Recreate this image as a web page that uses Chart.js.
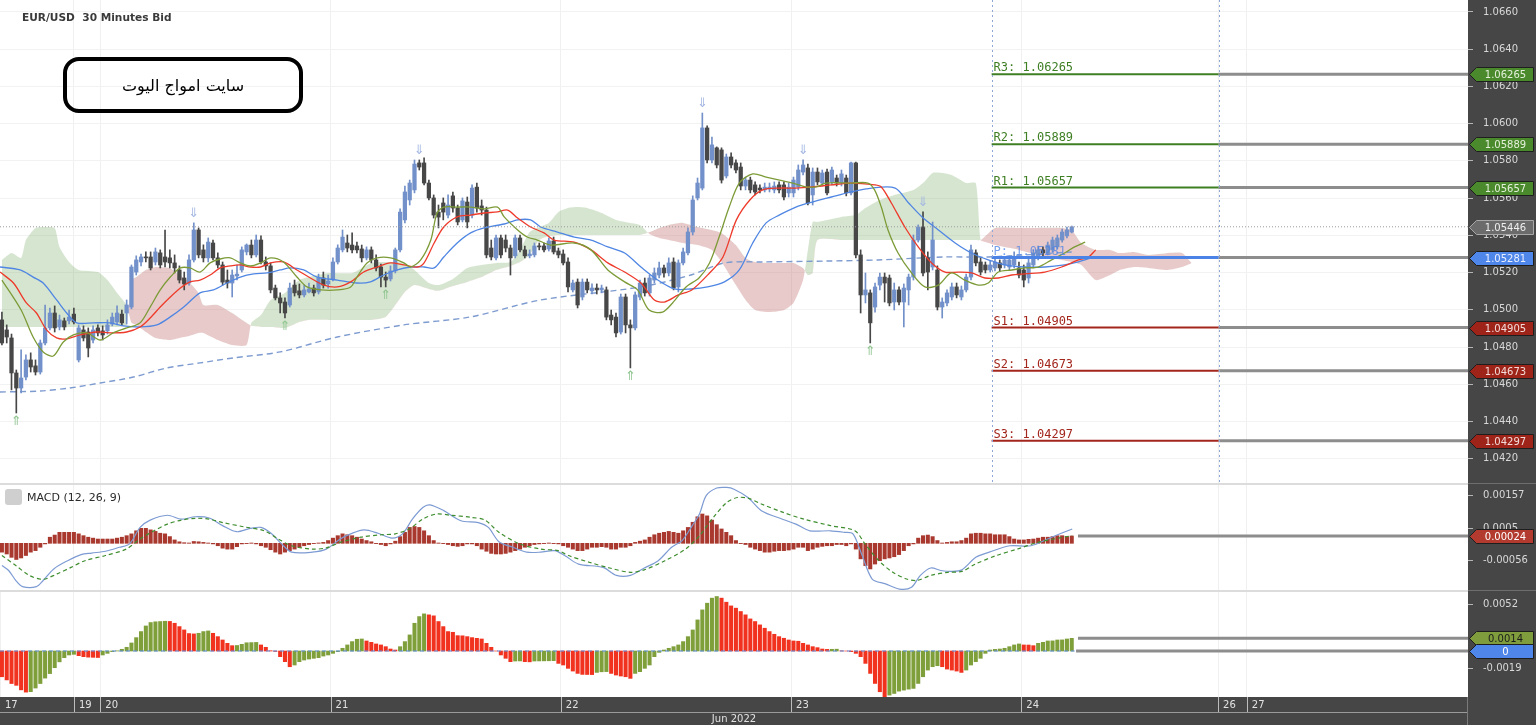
<!DOCTYPE html>
<html>
<head>
<meta charset="utf-8">
<script src="https://cdn.jsdelivr.net/npm/chart.js@4.4.1/dist/chart.umd.min.js"></script>
<style>
  body { margin: 0; background: #fff; }
  #wrap { position: relative; width: 1536px; height: 725px; overflow: hidden; font-family: "DejaVu Sans", sans-serif; }
  #wrap canvas { position: absolute; left: 0; display: block; }
  #title { position: absolute; left: 22px; top: 11px; font: bold 10.6px "DejaVu Sans", sans-serif; color: #3a3a3a; white-space: pre; }
  #badge { position: absolute; left: 63px; top: 57px; width: 232px; height: 48px; border: 4px solid #000; border-radius: 16px;
           display: flex; align-items: center; justify-content: center; font: 16px "DejaVu Sans", sans-serif; color: #000; background: transparent; }
  #macdName { position: absolute; left: 5px; top: 489px; height: 16px; font: 11px "DejaVu Sans", sans-serif; color: #2a2a2a; display: flex; align-items: center; }
  #macdName .eye { width: 17px; height: 16px; border-radius: 3px; background: #cfcfcf; margin-right: 5px; }
</style>
</head>
<body>
<div id="wrap">
  <canvas id="pricePane" width="1536" height="483" style="top:0"></canvas>
  <canvas id="macdPane" width="1536" height="107" style="top:483px"></canvas>
  <canvas id="oscPane" width="1536" height="135" style="top:590px"></canvas>
  <div id="title">EUR/USD  30 Minutes Bid</div>
  <div id="badge" dir="rtl">سايت امواج اليوت</div>
  <div id="macdName"><span class="eye"></span>MACD (12, 26, 9)</div>
</div>
<script>
// EUR/USD 30 minute bars, Jun 17 - Jun 24 2022 (bar 0 = first visible bar)
const candleOpen = [
  1.04946,1.04892,1.04849,1.04661,1.04580,1.04639,1.04731,1.04699,1.04666,1.04822,
  1.04903,1.04983,1.04908,1.04941,1.04941,1.04977,1.04731,1.04892,1.04881,1.04838,
  1.04903,1.04887,1.04887,1.04924,1.04935,1.04977,1.04983,1.05015,1.05203,1.05257,
  1.05284,1.05284,1.05257,1.05306,1.05284,1.05279,1.05252,1.05214,1.05171,1.05144,
  1.05268,1.05429,1.05322,1.05279,1.05359,1.05279,1.05241,1.05160,1.05144,1.05182,
  1.05214,1.05311,1.05348,1.05295,1.05375,1.05257,1.05236,1.05117,1.05064,1.05042,
  1.05026,1.05133,1.05102,1.05080,1.05096,1.05117,1.05096,1.05171,1.05139,1.05166,
  1.05257,1.05322,1.05359,1.05348,1.05343,1.05327,1.05279,1.05322,1.05268,1.05230,
  1.05176,1.05166,1.05209,1.05322,1.05483,1.05590,1.05644,1.05789,1.05789,1.05681,
  1.05601,1.05525,1.05574,1.05509,1.05612,1.05547,1.05483,1.05579,1.05509,1.05659,
  1.05558,1.05536,1.05332,1.05279,1.05386,1.05375,1.05332,1.05290,1.05386,1.05322,
  1.05290,1.05295,1.05343,1.05343,1.05327,1.05370,1.05316,1.05300,1.05257,1.05107,
  1.05149,1.05069,1.05149,1.05102,1.05117,1.05107,1.05107,1.04972,1.04961,1.04881,
  1.05069,1.04919,1.04903,1.05069,1.05144,1.05091,1.05160,1.05187,1.05225,1.05198,
  1.05257,1.05123,1.05252,1.05306,1.05418,1.05601,1.05654,1.05977,1.05805,1.05870,
  1.05859,1.05719,1.05821,1.05789,1.05767,1.05665,1.05697,1.05671,1.05654,1.05644,
  1.05649,1.05644,1.05671,1.05671,1.05628,1.05628,1.05659,1.05740,1.05762,1.05617,
  1.05740,1.05681,1.05740,1.05687,1.05708,1.05681,1.05708,1.05628,1.05789,1.05295,
  1.05080,1.05091,1.05015,1.05133,1.05176,1.05171,1.05042,1.05107,1.05042,1.05107,
  1.05176,1.05375,1.05445,1.05279,1.05230,1.05214,1.05015,1.05037,1.05069,1.05123,
  1.05069,1.05107,1.05176,1.05306,1.05257,1.05241,1.05214,1.05225,1.05252,1.05241,
  1.05230,1.05241,1.05225,1.05214,1.05171,1.05241,1.05279,1.05322,1.05306,1.05322,
  1.05338,1.05375,1.05397,1.05418
];
const candleHigh = [
  1.04988,1.04919,1.04870,1.04677,1.04785,1.04758,1.04769,1.04731,1.04838,1.05026,
  1.05010,1.05021,1.04972,1.04956,1.04999,1.05010,1.04919,1.04914,1.04903,1.04914,
  1.04919,1.04914,1.04946,1.04983,1.05021,1.04999,1.05053,1.05241,1.05290,1.05300,
  1.05311,1.05311,1.05332,1.05322,1.05429,1.05322,1.05295,1.05236,1.05203,1.05295,
  1.05467,1.05440,1.05349,1.05386,1.05375,1.05306,1.05257,1.05214,1.05214,1.05241,
  1.05338,1.05354,1.05375,1.05402,1.05397,1.05284,1.05252,1.05133,1.05091,1.05064,
  1.05144,1.05160,1.05139,1.05133,1.05144,1.05133,1.05192,1.05203,1.05187,1.05279,
  1.05349,1.05429,1.05402,1.05413,1.05364,1.05348,1.05338,1.05338,1.05295,1.05246,
  1.05203,1.05236,1.05332,1.05542,1.05665,1.05697,1.05805,1.05805,1.05816,1.05697,
  1.05617,1.05563,1.05601,1.05617,1.05633,1.05563,1.05601,1.05606,1.05671,1.05681,
  1.05590,1.05552,1.05375,1.05402,1.05402,1.05402,1.05348,1.05402,1.05402,1.05343,
  1.05322,1.05359,1.05359,1.05359,1.05386,1.05391,1.05332,1.05322,1.05279,1.05160,
  1.05166,1.05166,1.05166,1.05139,1.05139,1.05133,1.05123,1.04999,1.04983,1.05085,
  1.05085,1.04946,1.05096,1.05160,1.05171,1.05187,1.05225,1.05257,1.05241,1.05279,
  1.05279,1.05268,1.05332,1.05440,1.05612,1.05708,1.06057,1.05988,1.05928,1.05875,
  1.05870,1.05837,1.05843,1.05805,1.05789,1.05713,1.05713,1.05687,1.05671,1.05681,
  1.05681,1.05687,1.05687,1.05687,1.05681,1.05713,1.05778,1.05805,1.05783,1.05762,
  1.05762,1.05751,1.05756,1.05767,1.05724,1.05751,1.05724,1.05794,1.05794,1.05322,
  1.05198,1.05107,1.05144,1.05198,1.05198,1.05187,1.05144,1.05123,1.05139,1.05192,
  1.05402,1.05456,1.05526,1.05311,1.05472,1.05236,1.05064,1.05107,1.05144,1.05144,
  1.05128,1.05192,1.05348,1.05322,1.05279,1.05257,1.05262,1.05279,1.05268,1.05284,
  1.05290,1.05311,1.05257,1.05241,1.05279,1.05322,1.05343,1.05338,1.05364,1.05391,
  1.05402,1.05434,1.05445,1.05450
];
const candleLow = [
  1.04811,1.04822,1.04570,1.04446,1.04554,1.04623,1.04666,1.04650,1.04655,1.04811,
  1.04892,1.04881,1.04892,1.04892,1.04924,1.04924,1.04720,1.04833,1.04747,1.04822,
  1.04860,1.04838,1.04870,1.04914,1.04919,1.04919,1.04924,1.05005,1.05187,1.05236,
  1.05257,1.05214,1.05241,1.05225,1.05230,1.05225,1.05198,1.05144,1.05107,1.05133,
  1.05257,1.05279,1.05257,1.05257,1.05268,1.05225,1.05133,1.05117,1.05069,1.05160,
  1.05203,1.05295,1.05279,1.05284,1.05246,1.05214,1.05091,1.05053,1.04983,1.04956,
  1.05015,1.05074,1.05064,1.05069,1.05091,1.05074,1.05085,1.05117,1.05117,1.05155,
  1.05246,1.05311,1.05311,1.05306,1.05306,1.05257,1.05268,1.05252,1.05209,1.05123,
  1.05123,1.05155,1.05198,1.05311,1.05467,1.05563,1.05628,1.05751,1.05671,1.05590,
  1.05493,1.05440,1.05483,1.05493,1.05525,1.05456,1.05472,1.05440,1.05493,1.05525,
  1.05509,1.05279,1.05268,1.05268,1.05279,1.05311,1.05187,1.05279,1.05311,1.05279,
  1.05279,1.05284,1.05322,1.05311,1.05316,1.05300,1.05279,1.05241,1.05096,1.05096,
  1.05010,1.05053,1.05091,1.05085,1.05085,1.05091,1.04946,1.04919,1.04854,1.04870,
  1.04876,1.04688,1.04892,1.05053,1.05074,1.05074,1.05144,1.05171,1.05176,1.05182,
  1.05107,1.05096,1.05241,1.05295,1.05402,1.05590,1.05644,1.05789,1.05789,1.05762,
  1.05681,1.05708,1.05762,1.05735,1.05644,1.05644,1.05628,1.05617,1.05628,1.05633,
  1.05633,1.05628,1.05628,1.05590,1.05606,1.05606,1.05644,1.05724,1.05563,1.05563,
  1.05671,1.05665,1.05617,1.05671,1.05665,1.05665,1.05612,1.05617,1.05279,1.04983,
  1.05037,1.04822,1.04988,1.05107,1.05042,1.05021,1.04999,1.05026,1.04908,1.05026,
  1.05160,1.05364,1.05182,1.05107,1.05214,1.04999,1.04956,1.05021,1.05053,1.05064,
  1.05053,1.05096,1.05160,1.05236,1.05187,1.05198,1.05203,1.05209,1.05209,1.05225,
  1.05214,1.05225,1.05171,1.05123,1.05144,1.05225,1.05268,1.05290,1.05295,1.05311,
  1.05327,1.05364,1.05386,1.05413
];
const candleClose = [
  1.04822,1.04854,1.04661,1.04580,1.04634,1.04731,1.04693,1.04666,1.04822,1.04903,
  1.04983,1.04903,1.04946,1.04908,1.04961,1.04935,1.04903,1.04849,1.04795,1.04892,
  1.04876,1.04865,1.04919,1.04961,1.04983,1.04930,1.05026,1.05230,1.05268,1.05284,
  1.05279,1.05225,1.05311,1.05241,1.05257,1.05252,1.05225,1.05160,1.05139,1.05268,
  1.05429,1.05295,1.05279,1.05364,1.05279,1.05241,1.05149,1.05144,1.05187,1.05192,
  1.05322,1.05348,1.05295,1.05375,1.05257,1.05236,1.05107,1.05064,1.05037,1.04983,
  1.05117,1.05091,1.05080,1.05107,1.05112,1.05091,1.05171,1.05133,1.05155,1.05257,
  1.05332,1.05391,1.05332,1.05322,1.05322,1.05279,1.05322,1.05268,1.05225,1.05176,
  1.05160,1.05209,1.05322,1.05525,1.05633,1.05681,1.05783,1.05767,1.05681,1.05601,
  1.05509,1.05498,1.05525,1.05563,1.05547,1.05472,1.05585,1.05472,1.05654,1.05547,
  1.05536,1.05295,1.05284,1.05386,1.05295,1.05332,1.05279,1.05386,1.05322,1.05290,
  1.05300,1.05343,1.05338,1.05322,1.05370,1.05311,1.05295,1.05252,1.05123,1.05144,
  1.05026,1.05149,1.05107,1.05117,1.05107,1.05117,1.04961,1.04946,1.04876,1.05069,
  1.04919,1.04903,1.05080,1.05144,1.05091,1.05171,1.05198,1.05225,1.05198,1.05252,
  1.05117,1.05252,1.05311,1.05418,1.05590,1.05681,1.05977,1.05805,1.05886,1.05778,
  1.05697,1.05821,1.05778,1.05751,1.05665,1.05697,1.05644,1.05633,1.05644,1.05659,
  1.05659,1.05665,1.05644,1.05606,1.05659,1.05697,1.05751,1.05778,1.05574,1.05740,
  1.05687,1.05735,1.05628,1.05751,1.05681,1.05730,1.05628,1.05789,1.05295,1.05080,
  1.05107,1.04930,1.05123,1.05176,1.05144,1.05037,1.05107,1.05042,1.05117,1.05176,
  1.05375,1.05445,1.05198,1.05203,1.05375,1.05015,1.05042,1.05091,1.05123,1.05080,
  1.05107,1.05176,1.05322,1.05252,1.05203,1.05214,1.05241,1.05257,1.05225,1.05268,
  1.05268,1.05284,1.05187,1.05160,1.05252,1.05306,1.05322,1.05306,1.05348,1.05375,
  1.05386,1.05418,1.05429,1.05446
];

// moving averages: [bar, price]
const maGreen = [[0,1.05160],[4,1.04999],[6.5,1.04854],[8.6,1.04774],[10.7,1.04752],[12.8,1.04827],[14.9,1.04865],[17.7,1.04876],[20.5,1.04838],[23.2,1.04876],[26,1.04903],[28.8,1.04930],[30.9,1.05015],[33,1.05107],[35.1,1.05176],[37.2,1.05225],[39.2,1.05225],[41.3,1.05203],[43.4,1.05252],[45.5,1.05273],[47.6,1.05279],[49.7,1.05252],[51.8,1.05236],[53.9,1.05252],[56,1.05279],[58.7,1.05257],[61.5,1.05176],[63.6,1.05123],[66.5,1.05107],[69.9,1.05107],[72.7,1.05123],[74,1.05176],[76.1,1.05252],[78.2,1.05279],[81,1.05279],[83.8,1.05252],[85.2,1.05230],[87.3,1.05268],[89.4,1.05375],[90.7,1.05520],[92.1,1.05552],[94.9,1.05552],[97.7,1.05552],[100.5,1.05542],[103.3,1.05552],[104.7,1.05499],[107.5,1.05429],[109.5,1.05391],[111.6,1.05375],[114.4,1.05348],[119.3,1.05359],[122.8,1.05322],[126.3,1.05214],[129.8,1.05150],[132.5,1.05107],[134.9,1.04999],[137.7,1.04988],[139.8,1.05037],[142.6,1.05123],[145.3,1.05171],[147.5,1.05252],[149.5,1.05391],[151.6,1.05552],[153.7,1.05681],[156.5,1.05730],[159.3,1.05713],[162.1,1.05697],[164.8,1.05681],[167.6,1.05660],[169.7,1.05660],[171.8,1.05681],[177,1.05681],[180.5,1.05681],[181.9,1.05644],[183.3,1.05552],[184.7,1.05429],[186.8,1.05305],[189.6,1.05198],[192.4,1.05123],[195.2,1.05133],[197.9,1.05198],[200.7,1.05160],[203.5,1.05133],[205.6,1.05144],[207.7,1.05203],[210.5,1.05214],[213.2,1.05225],[216,1.05230],[218.8,1.05268],[221.5,1.05305],[223.6,1.05338],[225.8,1.05364]];
const maRed = [[-0.4,1.05203],[2.4,1.05144],[5.1,1.05037],[7.2,1.04983],[9.3,1.04892],[11.4,1.04849],[13.5,1.04844],[16.3,1.04865],[19.8,1.04881],[22.5,1.04876],[26,1.04881],[28.8,1.04908],[30.9,1.04956],[33,1.05015],[35.1,1.05069],[37.2,1.05117],[39.2,1.05150],[41.3,1.05160],[43.4,1.05187],[45.5,1.05225],[47.6,1.05236],[49.7,1.05241],[51.8,1.05230],[53.9,1.05230],[56,1.05252],[58.7,1.05257],[61.5,1.05214],[64.3,1.05171],[67.1,1.05133],[69.9,1.05123],[72.7,1.05150],[75.4,1.05203],[78.2,1.05230],[81,1.05252],[83.8,1.05241],[86.6,1.05230],[88,1.05252],[90.1,1.05359],[92.1,1.05445],[94.9,1.05499],[97.7,1.05509],[100.5,1.05520],[103.3,1.05526],[105.4,1.05536],[107.5,1.05493],[110.2,1.05445],[113,1.05413],[115.1,1.05375],[119.3,1.05364],[122.8,1.05322],[126.3,1.05252],[129.8,1.05203],[133.2,1.05144],[136,1.05053],[138.1,1.05042],[141,1.05080],[143.8,1.05107],[147.5,1.05198],[150.3,1.05284],[153.1,1.05483],[155.9,1.05590],[158.6,1.05644],[162.1,1.05654],[165.5,1.05654],[168.9,1.05660],[172.9,1.05671],[177,1.05681],[181.9,1.05671],[183.3,1.05660],[185.4,1.05574],[188.2,1.05445],[191,1.05338],[193.8,1.05252],[196.6,1.05203],[199.4,1.05203],[202.1,1.05198],[204.9,1.05171],[207.7,1.05171],[210.5,1.05187],[213.2,1.05193],[217.4,1.05203],[220.9,1.05230],[224.4,1.05268],[226.5,1.05284],[228,1.05322]];
const maBlue = [[-0.4,1.05230],[3.8,1.05214],[6.5,1.05176],[8.6,1.05144],[11.4,1.05053],[13.5,1.04983],[15.6,1.04930],[19.1,1.04930],[22.5,1.04930],[25.3,1.04914],[28.8,1.04908],[32.3,1.04919],[35.1,1.04962],[37.9,1.05015],[41.3,1.05091],[44.1,1.05107],[46.9,1.05144],[49.7,1.05176],[52.5,1.05193],[55.3,1.05198],[58,1.05214],[60.1,1.05225],[62.9,1.05214],[65.7,1.05176],[69.9,1.05160],[74,1.05144],[76.8,1.05150],[79.6,1.05187],[82.4,1.05214],[85.2,1.05230],[88,1.05230],[90.1,1.05225],[92.1,1.05284],[94.9,1.05359],[97.7,1.05413],[100.5,1.05440],[104.7,1.05461],[107.5,1.05483],[110.2,1.05483],[112.3,1.05445],[115.8,1.05418],[119.3,1.05391],[122.8,1.05375],[126.3,1.05338],[129.8,1.05305],[133.2,1.05230],[136.7,1.05160],[140.2,1.05112],[143.6,1.05112],[147.1,1.05123],[150.6,1.05150],[153.7,1.05214],[156.5,1.05359],[159.3,1.05467],[162.1,1.05510],[165.5,1.05552],[168.9,1.05579],[172.9,1.05606],[177,1.05633],[181.3,1.05654],[186.2,1.05654],[189,1.05574],[191.8,1.05499],[195.2,1.05429],[198.7,1.05359],[202.1,1.05305],[205.6,1.05268],[209.1,1.05241],[213.2,1.05230],[217.4,1.05230],[221.5,1.05241],[224.4,1.05257],[227.2,1.05279],[231,1.05284]];
const ma200 = [[-0.4,1.04559],[8,1.04564],[14,1.04580],[20.5,1.04607],[27.4,1.04639],[34.4,1.04688],[41.3,1.04715],[48.3,1.04742],[58,1.04774],[69.9,1.04854],[83.8,1.04919],[97.7,1.04962],[112.3,1.05053],[133.2,1.05123],[143.6,1.05187],[150.6,1.05252],[158.6,1.05257],[171.8,1.05262],[182.6,1.05268],[196.6,1.05284],[205.6,1.05284],[223,1.05311]];

// Ichimoku cloud (shifted forward), spans sampled at these bars
const cloudBars = [0,2,4,5,7,9,11,12,14,16,20,22,24,26,27,28,30,32,35,37,39,41,42,45,48,51,52,54,56,59,62,64,68,73,77,80,82,84,86,89,91,94,97,100,103,106,108,110,112,114,116,118,120,122,125,128,131,133,135,137,139,142,145,148,150,153,155,157,160,163,165,167,168,169,170,175,178,180,183,186,190,192,194,196,198,201,203,204,205,207,212,216,221,223,225,228,231,233,236,239,243,246,248];
const cloudSpanA = [1.05268,1.05305,1.05279,1.05375,1.05440,1.05445,1.05440,1.05338,1.05257,1.05214,1.05203,1.05160,1.05091,1.05026,1.04930,1.04919,1.04881,1.04849,1.04838,1.04849,1.04860,1.04876,1.04876,1.04838,1.04811,1.04811,1.04930,1.04972,1.05053,1.05091,1.05160,1.05176,1.05198,1.05198,1.05252,1.05257,1.05257,1.05252,1.05214,1.05144,1.05133,1.05166,1.05225,1.05241,1.05252,1.05257,1.05322,1.05418,1.05445,1.05467,1.05526,1.05547,1.05552,1.05547,1.05520,1.05483,1.05467,1.05456,1.05407,1.05386,1.05375,1.05359,1.05348,1.05322,1.05257,1.05133,1.05053,1.04999,1.04988,1.04999,1.05037,1.05160,1.05322,1.05472,1.05472,1.05499,1.05510,1.05547,1.05590,1.05617,1.05644,1.05681,1.05735,1.05735,1.05724,1.05681,1.05681,1.05375,1.05364,1.05348,1.05322,1.05295,1.05268,1.05257,1.05241,1.05160,1.05187,1.05214,1.05230,1.05225,1.05214,1.05230,1.05252];
const cloudSpanB = [1.04908,1.04908,1.04908,1.04908,1.04908,1.04908,1.04908,1.04908,1.04908,1.04908,1.04908,1.04908,1.04908,1.04919,1.05160,1.05176,1.05214,1.05230,1.05225,1.05187,1.05150,1.05091,1.05026,1.05026,1.04983,1.04930,1.04914,1.04908,1.04908,1.04903,1.04935,1.04946,1.04946,1.04946,1.04946,1.04962,1.05026,1.05096,1.05133,1.05112,1.05102,1.05128,1.05150,1.05176,1.05214,1.05236,1.05257,1.05295,1.05375,1.05397,1.05402,1.05402,1.05402,1.05402,1.05402,1.05402,1.05402,1.05402,1.05418,1.05440,1.05456,1.05467,1.05445,1.05429,1.05413,1.05348,1.05279,1.05257,1.05252,1.05252,1.05252,1.05225,1.05187,1.05198,1.05375,1.05375,1.05375,1.05375,1.05375,1.05375,1.05375,1.05375,1.05375,1.05375,1.05375,1.05375,1.05375,1.05375,1.05397,1.05440,1.05440,1.05440,1.05440,1.05429,1.05359,1.05322,1.05322,1.05305,1.05311,1.05295,1.05305,1.05305,1.05252];

// fractal markers (bar index)
const upFractalBars = [3, 59, 80, 131, 181];
const downFractalBars = [40, 87, 146, 167, 192];

// daily pivot levels
const pivotNames = ['R3', 'R2', 'R1', 'P', 'S1', 'S2', 'S3'];
const pivotValues = [1.06265, 1.05889, 1.05657, 1.05281, 1.04905, 1.04673, 1.04297];
const pivotFrom = 206.3, pivotTo = 253.6;
const lastPrice = 1.05446;
const priceTicks = [1.042, 1.044, 1.046, 1.048, 1.050, 1.052, 1.054, 1.056, 1.058, 1.060, 1.062, 1.064, 1.066];

// MACD (12, 26, 9)
const macdHist = [
  -0.00029,-0.00035,-0.00046,-0.00053,-0.00048,-0.00040,-0.00029,-0.00024,-0.00013,-0.00002,
  0.00020,0.00027,0.00036,0.00036,0.00036,0.00036,0.00031,0.00025,0.00020,0.00017,
  0.00014,0.00014,0.00014,0.00014,0.00017,0.00020,0.00025,0.00031,0.00041,0.00049,
  0.00049,0.00044,0.00039,0.00033,0.00031,0.00022,0.00011,0.00005,0.00002,0.00001,
  0.00006,0.00005,0.00003,0.00001,-0.00002,-0.00008,-0.00016,-0.00019,-0.00019,-0.00011,
  -0.00002,-0.00001,0.00001,-0.00002,-0.00008,-0.00013,-0.00021,-0.00029,-0.00035,-0.00029,
  -0.00024,-0.00019,-0.00013,-0.00008,-0.00004,-0.00001,0.00001,0.00003,0.00009,0.00017,
  0.00025,0.00031,0.00028,0.00025,0.00020,0.00014,0.00009,0.00005,-0.00001,-0.00004,
  -0.00008,-0.00002,0.00007,0.00022,0.00036,0.00052,0.00055,0.00052,0.00041,0.00025,
  0.00009,0.00001,-0.00001,-0.00004,-0.00008,-0.00010,-0.00008,-0.00002,-0.00002,-0.00008,
  -0.00019,-0.00026,-0.00033,-0.00035,-0.00035,-0.00033,-0.00029,-0.00024,-0.00019,-0.00013,
  -0.00008,-0.00004,-0.00002,-0.00001,0.00001,-0.00001,-0.00002,-0.00008,-0.00013,-0.00019,
  -0.00024,-0.00024,-0.00019,-0.00013,-0.00013,-0.00011,-0.00013,-0.00019,-0.00019,-0.00013,
  -0.00013,-0.00008,0.00003,0.00007,0.00011,0.00020,0.00028,0.00033,0.00036,0.00039,
  0.00036,0.00033,0.00041,0.00052,0.00069,0.00087,0.00096,0.00090,0.00076,0.00061,
  0.00047,0.00036,0.00025,0.00009,-0.00001,-0.00004,-0.00013,-0.00019,-0.00024,-0.00029,
  -0.00029,-0.00026,-0.00024,-0.00024,-0.00022,-0.00019,-0.00013,-0.00013,-0.00024,-0.00019,
  -0.00013,-0.00010,-0.00008,-0.00008,-0.00004,-0.00004,-0.00008,-0.00002,-0.00019,-0.00051,
  -0.00073,-0.00084,-0.00068,-0.00057,-0.00051,-0.00048,-0.00044,-0.00037,-0.00024,-0.00008,
  -0.00002,0.00017,0.00025,0.00027,0.00022,0.00009,0.00001,0.00003,0.00005,0.00005,
  0.00009,0.00017,0.00031,0.00033,0.00033,0.00031,0.00031,0.00028,0.00028,0.00028,
  0.00022,0.00014,0.00011,0.00011,0.00013,0.00014,0.00017,0.00020,0.00020,0.00022,
  0.00025,0.00025,0.00022,0.00024
];
const macdLine = [[0,-0.00073],[1.4,-0.00089],[2.9,-0.00122],[4.3,-0.00142],[7.2,-0.00142],[8.6,-0.00122],[10.8,-0.00084],[13.7,-0.00057],[16.5,-0.00037],[18.7,-0.00032],[21.6,-0.00026],[24.5,-0.00013],[26.6,-0.00002],[28.8,0.00052],[30.9,0.00076],[34.5,0.00092],[37.4,0.00079],[40.3,0.00087],[43.2,0.00083],[46,0.00058],[48.9,0.00038],[51.8,0.00049],[54,0.00052],[56.1,0.00033],[58.3,-0.00002],[60.4,-0.00029],[64.7,-0.00029],[67.6,-0.00019],[70.5,0.00014],[72.7,0.00031],[75.5,0.00044],[78.4,0.00033],[81.3,0.00017],[83.5,0.00031],[85.6,0.00080],[87.8,0.00118],[89.2,0.00126],[92.1,0.00107],[95.7,0.00074],[99.3,0.00068],[101.4,0.00052],[103.6,0.00005],[106.5,-0.00013],[109.4,-0.00029],[112.3,-0.00029],[115.2,-0.00024],[117.3,-0.00040],[120.2,-0.00068],[125.3,-0.00079],[128.1,-0.00105],[131,-0.00105],[133.9,-0.00081],[136.8,-0.00057],[139.6,-0.00013],[141.8,0.00009],[143.9,0.00058],[145.4,0.00096],[146.8,0.00156],[149,0.00181],[151.1,0.00183],[152.6,0.00177],[155.5,0.00150],[158.3,0.00107],[162.7,0.00079],[165.5,0.00063],[168.4,0.00041],[172.7,0.00041],[175.6,0.00036],[177.4,0.00031],[179.2,-0.00035],[181.4,-0.00117],[184.2,-0.00133],[187.1,-0.00150],[189.6,-0.00144],[191.4,-0.00106],[193.6,-0.00081],[195.7,-0.00089],[197.9,-0.00092],[200.1,-0.00087],[203,-0.00046],[205.8,-0.00029],[210.1,-0.00008],[214.5,-0.00008],[218.8,0.00020],[223.1,0.00047]];
const macdSignal = [[0,-0.00040],[2.9,-0.00073],[5.8,-0.00106],[8.6,-0.00118],[11.5,-0.00100],[14.4,-0.00079],[17.3,-0.00057],[21.6,-0.00040],[25.9,-0.00019],[28.8,0.00014],[31.7,0.00041],[34.5,0.00063],[37.4,0.00076],[40.3,0.00082],[43.2,0.00079],[46,0.00068],[50.4,0.00054],[54.7,0.00041],[57.6,0.00014],[60.4,-0.00008],[64.7,-0.00019],[67.6,-0.00015],[70.5,0.00003],[74.8,0.00020],[79.1,0.00028],[82,0.00031],[84.9,0.00047],[87.8,0.00080],[90.6,0.00096],[93.5,0.00092],[97.8,0.00085],[100.7,0.00076],[103.6,0.00036],[107.9,-0.00002],[112.3,-0.00019],[115.9,-0.00024],[118.1,-0.00040],[122.4,-0.00062],[126.7,-0.00081],[131,-0.00095],[133.9,-0.00087],[138.2,-0.00057],[142.5,-0.00019],[145.4,0.00025],[148.3,0.00085],[151.1,0.00134],[153.3,0.00150],[155.5,0.00148],[158.3,0.00129],[162.7,0.00102],[167,0.00080],[172.7,0.00058],[177.8,0.00041],[179.9,-0.00002],[182.8,-0.00057],[185.7,-0.00095],[188.6,-0.00117],[190.7,-0.00122],[193.6,-0.00105],[197.2,-0.00095],[200.1,-0.00092],[202.9,-0.00068],[207.3,-0.00040],[211.6,-0.00019],[215.9,0.00003],[220.2,0.00017],[223.1,0.00025]];
const macdTicks = [0.00157, 0.0005, -0.00056];
const macdLast = 0.00024;

// lower oscillator histogram
const oscHist = [
  -0.00285,-0.0032,-0.0036,-0.0038,-0.0043,-0.00455,-0.0045,-0.0041,-0.0036,-0.0030,
  -0.0025,-0.00185,-0.0012,-0.00074,-0.00044,-0.00037,-0.00052,-0.00063,-0.00068,-0.0007,
  -0.00072,-0.00044,-0.00026,-0.00007,0.00002,0.00019,0.00041,0.00089,0.00148,0.00215,
  0.00277,0.00315,0.00323,0.00326,0.00329,0.00327,0.00307,0.0027,0.00233,0.00193,
  0.00189,0.00196,0.00215,0.00222,0.00196,0.00159,0.00122,0.00085,0.00059,0.00061,
  0.00074,0.00091,0.00093,0.00095,0.00067,0.00041,0.00003,-0.00005,-0.00063,-0.00118,
  -0.00174,-0.00155,-0.00118,-0.0010,-0.00089,-0.00081,-0.00074,-0.00056,-0.00044,-0.00026,
  -0.00007,0.0003,0.00067,0.00104,0.0013,0.00133,0.00111,0.00096,0.00078,0.00067,
  0.00048,0.00022,0.00011,0.00048,0.00104,0.00178,0.00307,0.00381,0.00411,0.0040,
  0.00389,0.00326,0.0027,0.00215,0.00207,0.0017,0.00168,0.00159,0.00148,0.0014,
  0.00133,0.00085,0.00041,0,-0.00044,-0.00081,-0.00118,-0.00111,-0.0011,-0.00118,
  -0.0012,-0.00111,-0.0011,-0.00109,-0.00108,-0.00107,-0.00137,-0.00155,-0.00192,-0.00222,
  -0.00248,-0.00259,-0.0026,-0.00261,-0.00237,-0.0023,-0.00228,-0.00248,-0.00266,-0.00277,
  -0.00285,-0.00303,-0.00248,-0.00229,-0.00192,-0.00155,-0.00063,-0.00015,0.00011,0.0003,
  0.00048,0.00067,0.00104,0.00159,0.00233,0.00344,0.00455,0.00529,0.00585,0.00603,
  0.00585,0.0054,0.00499,0.00474,0.00437,0.0040,0.00355,0.00326,0.00289,0.00252,
  0.00215,0.00185,0.00159,0.00141,0.00122,0.00111,0.00108,0.00085,0.00067,0.00048,
  0.00037,0.00022,0.00018,0.00019,0.0002,0.00002,0,-0.00007,-0.00026,-0.00063,
  -0.00137,-0.00248,-0.00359,-0.00451,-0.00507,-0.00488,-0.0047,-0.00444,-0.00433,-0.00422,
  -0.00414,-0.00359,-0.00285,-0.00211,-0.00174,-0.00163,-0.00174,-0.0020,-0.00211,-0.00222,
  -0.00237,-0.00211,-0.00155,-0.00118,-0.00081,-0.00026,0.00011,0.00018,0.00022,0.0003,
  0.00048,0.00067,0.00078,0.00067,0.00066,0.00059,0.00085,0.00096,0.00111,0.00112,
  0.00122,0.00123,0.00133,0.0014
];
const oscTicks = [0.0052, -0.0019];

// time axis: day boundaries (bar index) and their labels
const dayBounds = [-0.4, 15, 20.5, 68.5, 116.5, 164.5, 212.5, 253.5, 259.5];
const dayLabels = ['17', '19', '20', '21', '22', '23', '24', '26', '27'];

const X_MIN = -0.4, X_MAX = 305.6;
const FONT = '"DejaVu Sans", sans-serif';
const BULL = '#7290c9', BEAR = '#474747';
const AXIS_BG = '#464646';

function pts(pairs) { return pairs.map(p => ({ x: p[0], y: p[1] })); }
function line(data, color, width, extra) {
  return Object.assign({ type: 'line', data: data, borderColor: color, borderWidth: width, pointRadius: 0, fill: false, tension: 0.3 }, extra || {});
}
function noPad(s) { s.paddingTop = 0; s.paddingBottom = 0; s.paddingLeft = 0; s.paddingRight = 0; }
function xGrid() {
  return {
    type: 'linear', min: X_MIN, max: X_MAX, offset: false,
    afterBuildTicks: s => { s.ticks = dayBounds.slice(1).map(v => ({ value: v })); },
    ticks: { display: false },
    grid: { color: '#f0f0f0', drawTicks: false, offset: false },
    border: { display: false },
    afterFit: s => { s.height = 0; noPad(s); }
  };
}
function rightAxis(min, max, ticks, fmt, gridColor) {
  return {
    position: 'right', min: min, max: max,
    afterBuildTicks: s => { s.ticks = ticks.map(v => ({ value: v })); },
    ticks: { color: '#d8d8d8', padding: 10, font: { family: FONT, size: 10 }, callback: fmt },
    grid: { color: gridColor || 'rgba(0,0,0,0)', drawOnChartArea: gridColor !== null, tickColor: '#b5b5b5', tickLength: 5 },
    border: { display: false },
    afterFit: s => { s.width = 68; noPad(s); }
  };
}
function drawTag(chart, value, text, bg, fg, edge) {
  const ctx = chart.ctx;
  const y = Math.round(chart.scales.y.getPixelForValue(value)) + 0.5;
  const x0 = chart.chartArea.right + 1.5;
  ctx.save();
  ctx.beginPath();
  ctx.moveTo(x0, y);
  ctx.lineTo(x0 + 7, y - 7);
  ctx.lineTo(x0 + 64, y - 7);
  ctx.lineTo(x0 + 64, y + 7);
  ctx.lineTo(x0 + 7, y + 7);
  ctx.closePath();
  ctx.fillStyle = bg;
  ctx.fill();
  ctx.strokeStyle = edge || '#1e1e1e';
  ctx.lineWidth = 1;
  ctx.stroke();
  ctx.fillStyle = fg;
  ctx.font = '10px ' + FONT;
  ctx.textAlign = 'center';
  ctx.textBaseline = 'middle';
  ctx.fillText(text, x0 + 36, y + 1);
  ctx.restore();
}
const axisBg = {
  id: 'axisBg',
  beforeDraw(chart) {
    const { ctx, chartArea: a, width, height } = chart;
    ctx.save();
    ctx.fillStyle = AXIS_BG;
    ctx.fillRect(a.right, 0, width - a.right, height);
    if (height - a.bottom > 2) ctx.fillRect(0, a.bottom, width, height - a.bottom);
    ctx.restore();
  }
};
const topRule = {
  id: 'topRule',
  afterDraw(chart) {
    const { ctx, chartArea: a, width } = chart;
    ctx.save();
    ctx.fillStyle = '#dcdcdc';
    ctx.fillRect(0, 0, a.right, 2);
    ctx.fillStyle = '#6e6e6e';
    ctx.fillRect(a.right, 0, width - a.right, 1);
    ctx.restore();
  }
};
function pivotColor(name) {
  if (name[0] === 'R') return '#3f7f24';
  if (name[0] === 'S') return '#a3261d';
  return '#4a82e6';
}

// ---------- price pane ----------
const idx = candleClose.map((c, i) => i);
const candleColors = idx.map(i => candleClose[i] >= candleOpen[i] ? BULL : BEAR);
const priceSets = [
  line(cloudBars.map((b, i) => ({ x: b, y: cloudSpanA[i] })), 'rgba(0,0,0,0)', 0,
       { tension: 0.2, order: 20, fill: { target: '+1', above: 'rgba(118,168,98,0.30)', below: 'rgba(190,108,108,0.36)' } }),
  line(cloudBars.map((b, i) => ({ x: b, y: cloudSpanB[i] })), 'rgba(0,0,0,0)', 0, { tension: 0.2, order: 19 }),
  line(pts(ma200), '#7e9bd0', 1.4, { borderDash: [6, 4], order: 15 }),
  { type: 'bar', data: idx.map(i => ({ x: i, y: [candleLow[i], candleHigh[i]] })), backgroundColor: candleColors,
    barThickness: 1, grouped: false, borderWidth: 0, order: 12 },
  { type: 'bar', data: idx.map(i => ({ x: i, y: [candleOpen[i], candleClose[i]] })), backgroundColor: candleColors,
    barThickness: 3.6, grouped: false, borderWidth: 0, minBarLength: 1, order: 11 },
  line(pts(maBlue), '#4f86e3', 1.3, { order: 8 }),
  line(pts(maRed), '#ee3a2a', 1.3, { order: 7 }),
  line(pts(maGreen), '#7c9b37', 1.3, { order: 6 }),
  line([{ x: X_MIN, y: lastPrice }, { x: X_MAX, y: lastPrice }], '#9c9c9c', 1, { borderDash: [1, 2], tension: 0, order: 4 })
];
pivotValues.forEach((v, i) => {
  priceSets.push(line([{ x: pivotFrom, y: v }, { x: pivotTo, y: v }], pivotColor(pivotNames[i]), pivotNames[i] === 'P' ? 3 : 2, { tension: 0, order: 3 }));
  priceSets.push(line([{ x: pivotTo, y: v }, { x: X_MAX, y: v }], '#8d8d8d', 3, { tension: 0, order: 3 }));
});

const priceOverlay = {
  id: 'priceOverlay',
  afterDatasetsDraw(chart) {
    const { ctx, chartArea: a } = chart;
    const xs = chart.scales.x, ys = chart.scales.y;
    ctx.save();
    // session separators
    ctx.strokeStyle = '#8ea7d6';
    ctx.lineWidth = 1;
    ctx.setLineDash([2, 3]);
    [pivotFrom, pivotTo].forEach(b => {
      const x = Math.round(xs.getPixelForValue(b)) + 0.5;
      ctx.beginPath(); ctx.moveTo(x, a.top); ctx.lineTo(x, a.bottom); ctx.stroke();
    });
    ctx.setLineDash([]);
    // pivot labels
    ctx.font = '12px "DejaVu Sans Mono", monospace';
    ctx.textAlign = 'left';
    ctx.textBaseline = 'alphabetic';
    pivotValues.forEach((v, i) => {
      const name = pivotNames[i];
      ctx.fillStyle = name === 'P' ? 'rgba(74,130,230,0.75)' : pivotColor(name);
      ctx.fillText(name + ': ' + v.toFixed(5), xs.getPixelForValue(pivotFrom) + 2, ys.getPixelForValue(v) - 3);
    });
    // fractal arrows
    ctx.font = '13px ' + FONT;
    ctx.textAlign = 'center';
    ctx.textBaseline = 'middle';
    ctx.fillStyle = '#8fc58f';
    upFractalBars.forEach(b => ctx.fillText('⇑', xs.getPixelForValue(b), ys.getPixelForValue(candleLow[b]) + 9));
    ctx.fillStyle = '#a2b6e2';
    downFractalBars.forEach(b => ctx.fillText('⇓', xs.getPixelForValue(b), ys.getPixelForValue(candleHigh[b]) - 9));
    ctx.restore();
  },
  afterDraw(chart) {
    pivotValues.forEach((v, i) => {
      const name = pivotNames[i];
      if (name[0] === 'R') drawTag(chart, v, v.toFixed(5), '#4a8a2c', '#e4f0da');
      else if (name[0] === 'S') drawTag(chart, v, v.toFixed(5), '#9e2419', '#f3dcd9');
      else drawTag(chart, v, v.toFixed(5), '#4f86ea', '#e9efff');
    });
    drawTag(chart, lastPrice, lastPrice.toFixed(5), '#6b6b6b', '#efefef', '#a8a8a8');
  }
};

new Chart(document.getElementById('pricePane'), {
  type: 'bar',
  data: { datasets: priceSets },
  options: {
    responsive: false, animation: false, devicePixelRatio: 1,
    layout: { padding: 0 },
    plugins: { legend: { display: false }, tooltip: { enabled: false } },
    scales: {
      x: xGrid(),
      y: rightAxis(1.04070, 1.06664, priceTicks, v => v.toFixed(4), '#f2f2f2')
    }
  },
  plugins: [axisBg, priceOverlay]
});

// ---------- MACD pane ----------
new Chart(document.getElementById('macdPane'), {
  type: 'bar',
  data: {
    datasets: [
      { type: 'bar', data: idx.map(i => ({ x: i, y: macdHist[i] })), backgroundColor: '#a9392f',
        barThickness: 3.4, grouped: false, borderWidth: 0, order: 10 },
      line(pts(macdLine), '#7d9bd3', 1.2, { order: 5 }),
      line(pts(macdSignal), '#3e8d2e', 1.2, { borderDash: [4, 3], order: 4 }),
      line([{ x: 224.3, y: macdLast }, { x: X_MAX, y: macdLast }], '#8d8d8d', 3, { tension: 0, order: 3 })
    ]
  },
  options: {
    responsive: false, animation: false, devicePixelRatio: 1,
    layout: { padding: 0 },
    plugins: { legend: { display: false }, tooltip: { enabled: false } },
    scales: {
      x: xGrid(),
      y: rightAxis(-0.00153, 0.001976, macdTicks, v => String(v), null)
    }
  },
  plugins: [axisBg, topRule, {
    id: 'macdTag',
    afterDraw(chart) { drawTag(chart, macdLast, macdLast.toFixed(5), '#b23a2e', '#ffffff'); }
  }]
});

// ---------- oscillator pane + time axis ----------
const oscColors = oscHist.map((v, i) => (i > 0 && v >= oscHist[i - 1]) ? '#7f9f3b' : '#f1321f');
const oscX = xGrid();
oscX.afterBuildTicks = s => { s.ticks = dayBounds.map(v => ({ value: v })); };
oscX.ticks = { display: true, autoSkip: false, maxRotation: 0, align: 'start', labelOffset: 5, padding: 2,
               color: '#e2e2e2', font: { family: FONT, size: 10 }, callback: (v, i) => dayLabels[i] };
oscX.title = { display: true, text: 'Jun 2022', color: '#e2e2e2', font: { family: FONT, size: 10 }, padding: { top: 0, bottom: 0 } };
oscX.afterFit = s => { s.height = 28; noPad(s); };

new Chart(document.getElementById('oscPane'), {
  type: 'bar',
  data: {
    datasets: [
      { type: 'bar', data: idx.map(i => ({ x: i, y: oscHist[i] })), backgroundColor: oscColors,
        barThickness: 3.4, grouped: false, borderWidth: 0, order: 10 },
      line([{ x: X_MIN, y: 0 }, { x: 223.6, y: 0 }], '#5b8be0', 1.2, { borderDash: [4, 3], tension: 0, order: 5 }),
      line([{ x: 224.3, y: oscHist[oscHist.length - 1] }, { x: X_MAX, y: oscHist[oscHist.length - 1] }], '#8d8d8d', 3, { tension: 0, order: 3 }),
      line([{ x: 223.9, y: 0 }, { x: X_MAX, y: 0 }], '#8d8d8d', 3, { tension: 0, order: 3 })
    ]
  },
  options: {
    responsive: false, animation: false, devicePixelRatio: 1,
    layout: { padding: 0 },
    plugins: { legend: { display: false }, tooltip: { enabled: false } },
    scales: {
      x: oscX,
      y: rightAxis(-0.00509, 0.00675, oscTicks, v => String(v), null)
    }
  },
  plugins: [axisBg, topRule, {
    id: 'oscAxis',
    afterDraw(chart) {
      const { ctx, chartArea: a } = chart;
      const xs = chart.scales.x;
      ctx.save();
      ctx.fillStyle = '#9a9a9a';
      ctx.fillRect(0, a.bottom + 15, a.right, 1);
      ctx.fillStyle = '#7a7a7a';
      ctx.fillRect(a.right - 1, a.bottom, 1, chart.height - a.bottom);
      ctx.fillStyle = '#bdbdbd';
      dayBounds.slice(1).forEach(b => ctx.fillRect(Math.round(xs.getPixelForValue(b)), a.bottom, 1, 15));
      ctx.restore();
      const last = oscHist[oscHist.length - 1];
      drawTag(chart, last, last.toFixed(4), '#7f9d3c', '#1c1c1c');
      drawTag(chart, 0, '0', '#4f86ea', '#ffffff');
    }
  }]
});
</script>
</body>
</html>
